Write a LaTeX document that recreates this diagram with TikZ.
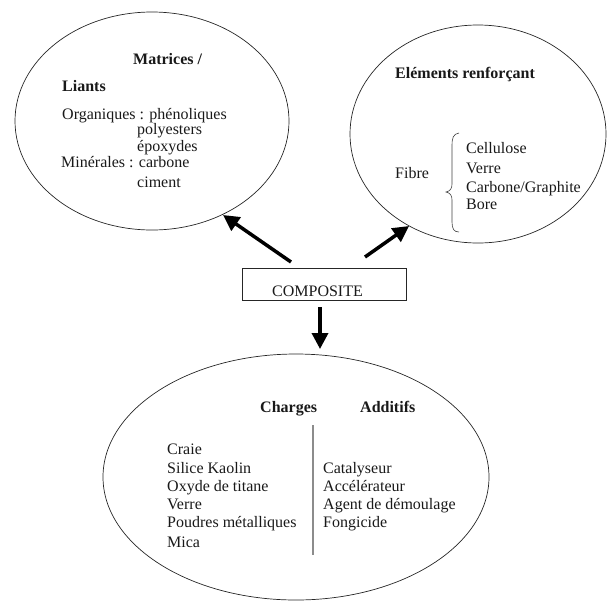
\documentclass[tikz,border=0pt]{standalone}
\usepackage{fontspec}
\setmainfont{Liberation Serif}
\usetikzlibrary{shapes.geometric,arrows.meta}
\begin{document}
\begin{tikzpicture}[x=1pt,y=-1pt,
  oval/.style={ellipse,draw=black!85,line width=0.7pt,inner sep=0pt},
  txt/.style={anchor=base west,inner sep=0pt,font=\fontsize{16}{18}\selectfont,text=black!90},
  btxt/.style={txt,font=\fontsize{16}{18}\selectfont\bfseries},
  fat/.style={line width=3.5pt,-{Triangle[length=16pt,width=16pt]}}]
\useasboundingbox (0,0) rectangle (607,600);
% ellipses
\node[oval,minimum width=274pt,minimum height=218pt] (mat) at (152,121) {};
\node[oval,minimum width=256pt,minimum height=218pt] (ren) at (478,134) {};
\node[oval,minimum width=386pt,minimum height=246pt] (cha) at (296,477) {};
% composite box
\node[draw=black!85,line width=0.8pt,minimum width=164pt,minimum height=32pt,inner sep=0pt] (box) at (324,284) {};
\node[txt] (comp) at (272,296) {COMPOSITE};
% matrices text
\node[btxt] (t1) at (133,64) {Matrices /};
\node[btxt] (t2) at (62,91) {Liants};
\node[txt] (t3) at (62,119) {Organiques : phénoliques};
\node[txt] (t4) at (137,134) {polyesters};
\node[txt] (t5) at (137,151) {époxydes};
\node[txt] (t6) at (61,167) {Minérales : carbone};
\node[txt] (t7) at (137,187) {ciment};
% renforcant text
\node[btxt] (r1) at (395,78) {Eléments renforçant};
\node[txt] (r2) at (395,178) {Fibre};
\node[txt] (r3) at (466,153) {Cellulose};
\node[txt] (r4) at (466,173) {Verre};
\node[txt] (r5) at (466,192) {Carbone/Graphite};
\node[txt] (r6) at (466,209) {Bore};
\draw[black!75,line width=0.6pt] (459,133) .. controls (453,134) and (452,138) .. (452,146)
  -- (452,184) .. controls (452,189) and (450,191) .. (446,192)
  .. controls (450,193) and (452,195) .. (452,200)
  -- (452,222) .. controls (452,229) and (454,232) .. (459,232);
% charges / additifs
\node[btxt] (c0) at (260,412) {Charges};
\node[btxt] (a0) at (360,412) {Additifs};
\node[txt] (c1) at (167,454) {Craie};
\node[txt] (c2) at (167,473) {Silice Kaolin};
\node[txt] (c3) at (167,491) {Oxyde de titane};
\node[txt] (c4) at (167,509) {Verre};
\node[txt] (c5) at (167,527) {Poudres métalliques};
\node[txt] (c6) at (167,547) {Mica};
\node[txt] (a1) at (323,473) {Catalyseur};
\node[txt] (a2) at (323,491) {Accélérateur};
\node[txt] (a3) at (323,509) {Agent de démoulage};
\node[txt] (a4) at (323,527) {Fongicide};
\coordinate (dv1) at (313,425);
\coordinate (dv2) at (313,555);
\draw[black!45,line width=1.3pt] (dv1) -- (dv2);
% arrows
\coordinate (lT) at (291,262);
\coordinate (lH) at (223,215);
\coordinate (rT) at (365,257);
\coordinate (rH) at (409,226);
\coordinate (dT) at (320,307);
\coordinate (dH) at (320,349);
\draw[fat] (lT) -- (lH);
\draw[fat] (rT) -- (rH);
\draw[fat] (dT) -- (dH);
\end{tikzpicture}
\end{document}
